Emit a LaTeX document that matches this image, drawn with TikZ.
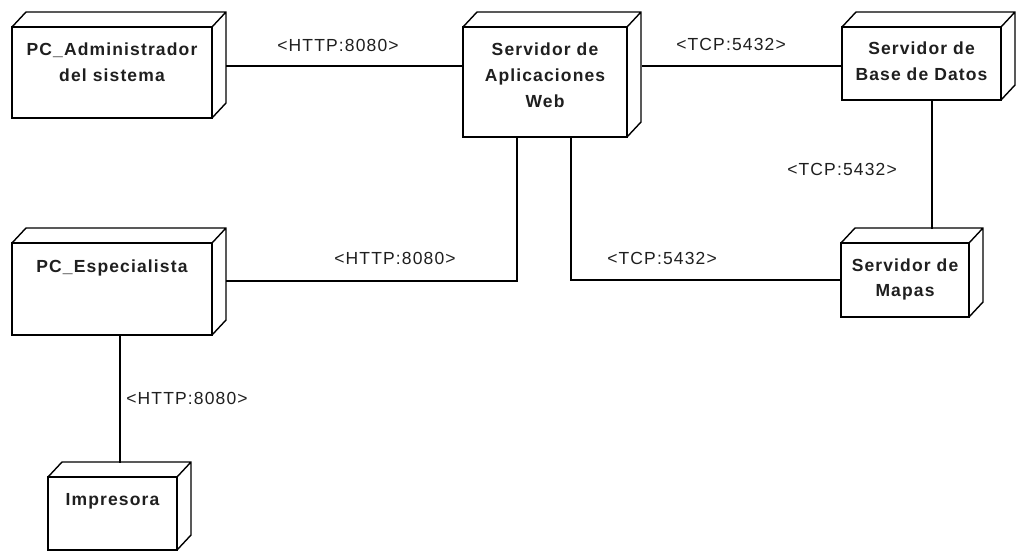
\documentclass[tikz,border=0pt]{standalone}
\usepackage{fontspec}
\setmainfont{Liberation Sans}
\newfontfamily\lblfont[LetterSpace=6.5]{Liberation Sans}
\newfontfamily\nodefont[LetterSpace=6.5]{Liberation Sans Bold}
\usetikzlibrary{calc}
\tikzset{
  box/.style={draw=black, line width=1.4pt, fill=white, inner sep=0pt, outer sep=0pt},
  edge/.style={draw=black, line width=1.4pt, line join=miter},
  conn/.style={draw=black, line width=1.3pt},
  ntext/.style={anchor=base, inner sep=0pt, text=black!88, font=\nodefont\fontsize{17.5}{20}\selectfont},
  ltext/.style={anchor=base, inner sep=0pt, text=black!88, font=\lblfont\fontsize{17.5}{20}\selectfont},
}
\newcommand\depnode[5]{%
  \node[box, minimum width={(#4-#2)*1pt}, minimum height={(#5-#3)*1pt}] (#1) at ({(#2+#4)/2},{(#3+#5)/2}) {};
  \draw[edge] (#1.north west) -- ++(14,-15) -- ++({#4-#2},0) -- ++(0,{#5-#3}) -- (#1.south east)
              (#1.north east) -- ++(14,-15);
}
\begin{document}
\begin{tikzpicture}[x=1pt,y=-1pt]
\useasboundingbox (0,0) rectangle (1016,552);
% nodes
\depnode{adm}{12}{27}{212}{118}
\depnode{web}{463}{27}{627}{137}
\depnode{bd}{842}{27}{1001}{100}
\depnode{esp}{12}{243}{212}{335}
\depnode{map}{841}{243}{969}{317}
\depnode{imp}{48}{477}{177}{550}
% node texts
\node[ntext] (adm1) at (112,55) {PC\_Administrador};
\node[ntext] (adm2) at (112,81) {del sistema};
\node[ntext] (web1) at (545,55) {Servidor de};
\node[ntext] (web2) at (545,81) {Aplicaciones};
\node[ntext] (web3) at (545,107) {Web};
\node[ntext] (bd1) at (921.5,54) {Servidor de};
\node[ntext] (bd2) at (921.5,80) {Base de Datos};
\node[ntext] (esp1) at (112,272) {PC\_Especialista};
\node[ntext] (map1) at (905,271) {Servidor de};
\node[ntext] (map2) at (905,296) {Mapas};
\node[ntext] (imp1) at (112.5,505) {Impresora};
% connectors
\draw[conn] ($(adm.east)+(14,-6.5)$) coordinate (c1) -- (c1 -| web.west);
\draw[conn] ($(web.east)+(15,-16)$) coordinate (c2) -- (c2 -| bd.west);
\draw[conn] ($(bd.south)+(10.5,0)$) -- ($(map.north)+(27,-14)$);
\draw[conn] ($(web.south)+(-28,0)$) |- ($(esp.east)+(14,-8)$);
\draw[conn] ($(web.south)+(26,0)$) |- (map.west);
\draw[conn] ($(esp.south)+(8,0)$) -- ($(imp.north)+(7.5,-14)$);
% labels
\node[ltext] (l1) at (338,51) {<HTTP:8080>};
\node[ltext] (l2) at (731,50) {<TCP:5432>};
\node[ltext] (l3) at (842,175) {<TCP:5432>};
\node[ltext] (l4) at (395,264) {<HTTP:8080>};
\node[ltext] (l5) at (662,264) {<TCP:5432>};
\node[ltext] (l6) at (187,404) {<HTTP:8080>};
\end{tikzpicture}
\end{document}
